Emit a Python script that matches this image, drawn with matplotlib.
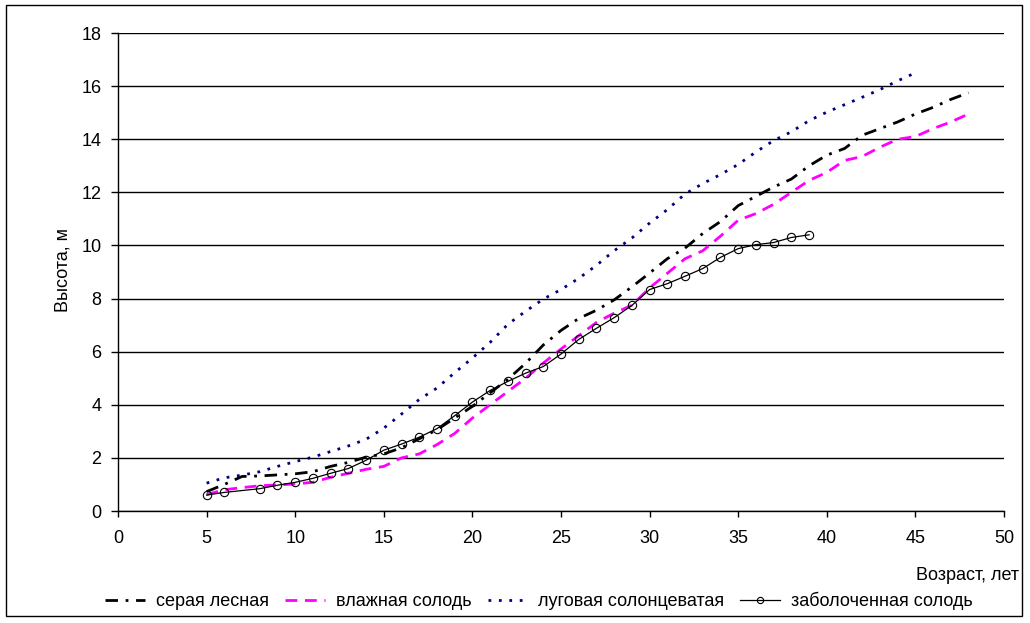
import matplotlib
matplotlib.use("Agg")
import matplotlib.pyplot as plt
from matplotlib.patches import Rectangle

plt.rcParams['font.family'] = ['Liberation Sans', 'DejaVu Sans']
plt.rcParams['lines.scale_dashes'] = False

# Data
age_grey = list(range(5, 49))
grey_forest = [0.73, 1.0, 1.3, 1.32, 1.36, 1.40, 1.48, 1.68, 1.83, 2.03, 2.15, 2.38, 2.72, 3.06,
               3.5, 3.94, 4.45, 4.96, 5.56, 6.25, 6.8, 7.25, 7.56, 7.95, 8.44, 8.96, 9.5, 9.9,
               10.45, 10.9, 11.5, 11.85, 12.2, 12.5, 13.0, 13.4, 13.65, 14.15, 14.4, 14.65,
               14.95, 15.2, 15.5, 15.75]

age_wet = list(range(5, 49))
wet_solod = [0.62, 0.8, 0.88, 0.95, 0.98, 1.02, 1.08, 1.27, 1.42, 1.57, 1.68, 2.0, 2.15, 2.5,
             2.92, 3.5, 4.0, 4.5, 5.0, 5.57, 6.1, 6.6, 7.1, 7.45, 7.75, 8.4, 8.95, 9.5, 9.8,
             10.35, 10.95, 11.2, 11.55, 12.0, 12.45, 12.75, 13.2, 13.35, 13.7, 14.0, 14.1,
             14.4, 14.65, 14.95]

age_meadow = list(range(5, 46))
meadow = [1.05, 1.25, 1.35, 1.48, 1.68, 1.86, 2.03, 2.24, 2.45, 2.7, 3.12, 3.65, 4.2, 4.63,
          5.21, 5.76, 6.35, 7.03, 7.52, 7.98, 8.34, 8.76, 9.25, 9.8, 10.28, 10.84, 11.35,
          11.94, 12.33, 12.67, 13.05, 13.52, 13.95, 14.28, 14.7, 15.02, 15.3, 15.58, 15.87,
          16.2, 16.5]

age_bog = [5, 6] + list(range(8, 40))
bog_solod = [0.6, 0.7, 0.84, 0.97, 1.08, 1.23, 1.42, 1.6, 1.91, 2.29, 2.52, 2.78, 3.1, 3.59,
             4.1, 4.54, 4.88, 5.19, 5.44, 5.91, 6.46, 6.88, 7.28, 7.74, 8.34, 8.56, 8.84, 9.13,
             9.55, 9.88, 10.03, 10.11, 10.3, 10.4]

labels = ["серая лесная", "влажная солодь", "луговая солонцеватая", "заболоченная солодь"]
x_ticks = [0, 5, 10, 15, 20, 25, 30, 35, 40, 45, 50]
y_ticks = [0, 2, 4, 6, 8, 10, 12, 14, 16, 18]

W, H = 1030, 623
fig = plt.figure(figsize=(W / 100, H / 100), dpi=100)
ax = fig.add_axes([118 / W, (H - 511) / H, (1004 - 118) / W, (511 - 33) / H])

fs = 13
ax.plot(age_grey, grey_forest, color='black', lw=2, dashes=(9, 5.5, 2, 5.5), label=labels[0])
ax.plot(age_wet, wet_solod, color='#FF00FF', lw=2, dashes=(8.5, 5.5), label=labels[1])
ax.plot(age_meadow, meadow, color='#000080', lw=2, dashes=(2, 5.5), label=labels[2])
ax.plot(age_bog, bog_solod, color='black', lw=0.9, marker='o', markersize=6,
        markerfacecolor='none', markeredgecolor='black', markeredgewidth=0.8, label=labels[3])

ax.set_xlim(0, 50)
ax.set_ylim(0, 18)
ax.set_xticks(x_ticks)
ax.set_yticks(y_ticks)
ax.set_xticklabels([str(v) for v in x_ticks], fontsize=fs)
ax.set_yticklabels([str(v) for v in y_ticks], fontsize=fs)
ax.tick_params(axis='y', length=5, width=1, pad=7, direction='out')
ax.tick_params(axis='x', length=4, width=1, pad=10, direction='out')
ax.yaxis.grid(True, color='black', lw=1)
ax.set_axisbelow(True)
for s in ['top', 'right']:
    ax.spines[s].set_visible(False)
for s in ['left', 'bottom']:
    ax.spines[s].set_linewidth(1)

fig.text(63 / W, (H - 270) / H, "Высота, м", rotation=90, fontsize=fs, ha='center', va='center')
fig.text(1019 / W, (H - 575) / H, "Возраст, лет", fontsize=fs, ha='right', va='center')

leg = fig.legend(loc='center', bbox_to_anchor=(539 / W, (H - 601) / H), ncol=4, frameon=False,
                 fontsize=fs, handlelength=2.2, columnspacing=0.9, handletextpad=0.6,
                 markerscale=0.75)

fig.patches.append(Rectangle((6 / W, (H - 616) / H), 1016 / W, 611 / H, transform=fig.transFigure,
                             fill=False, edgecolor='black', lw=1))

fig.savefig("out.png", dpi=100)
